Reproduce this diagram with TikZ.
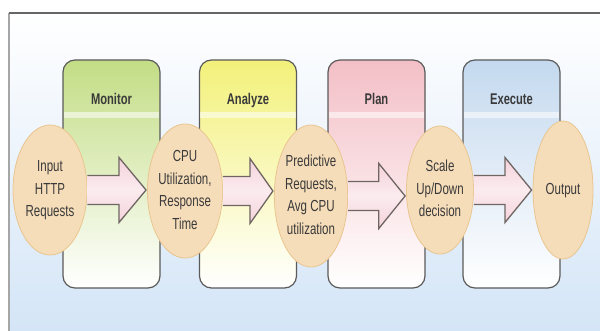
\documentclass[tikz,border=0pt]{standalone}
\usepackage{fontspec}
\setmainfont{Liberation Sans}
\usepackage{graphicx}
\usetikzlibrary{shapes.geometric,calc}

\definecolor{monitorgreen}{HTML}{C3DD85}
\definecolor{analyzeyellow}{HTML}{F3F17A}
\definecolor{planpink}{HTML}{F3BFC6}
\definecolor{executeblue}{HTML}{C4D9EF}
\definecolor{peach}{HTML}{F6DDBA}
\definecolor{peachline}{HTML}{E9C58F}
\definecolor{arrowpink}{HTML}{F5D3DB}
\definecolor{arrowline}{HTML}{6F6663}
\definecolor{boxline}{HTML}{5A5A5A}
\definecolor{txtgray}{HTML}{3A3A3A}
\definecolor{bgbot}{HTML}{D4E5F7}
\definecolor{bgmid}{HTML}{EEF4FB}

% squeezed text, as in the original
\newcommand{\sq}[1]{\scalebox{0.72}[1]{\begin{tabular}{@{}c@{}}#1\end{tabular}}}

\tikzset{
  stagebox/.style={rounded corners=12pt, draw=boxline, line width=1.2pt,
    minimum width=97pt, minimum height=228pt, inner sep=0pt},
  stagetitle/.style={text=txtgray, font=\fontsize{15.5}{22}\selectfont\bfseries},
  stepoval/.style={ellipse, fill=peach, draw=peachline, line width=0.8pt,
    inner sep=0pt, text=txtgray, font=\fontsize{16}{22.5}\selectfont},
  flowarrow/.style={top color=arrowpink, bottom color=arrowpink, middle color=arrowpink!45,
    draw=arrowline, line width=1.3pt, line join=miter}
}

\newcommand{\flowarr}[2]{%
  \draw[flowarrow] let \p1=(#1.east), \p2=(#2.west), \n1={0.53*(\x2-\x1)} in
    (\x1,\y1+14.5pt) -- (\x1+\n1,\y1+14.5pt) -- (\x1+\n1,\y1+32.5pt)
    -- (\x2-1pt,\y1) -- (\x1+\n1,\y1-32.5pt) -- (\x1+\n1,\y1-14.5pt)
    -- (\x1,\y1-14.5pt);}

\begin{document}
\begin{tikzpicture}[x=1pt, y=-1pt]
\useasboundingbox (0,0) rectangle (600,331);
\fill[white] (0,0) rectangle (600,331);

% frame
\fill[top color=white, middle color=bgmid, bottom color=bgbot] (9,13) rectangle (600,331);
\draw[gray!70, line width=1.2pt] (9,331) -- (9,13);
\draw[black!60, line width=1.6pt] (9,13) -- (600,13);

% stages
\foreach \bx/\cx/\col/\ttl in {mon/111.5/monitorgreen/Monitor, ana/248/analyzeyellow/Analyze,
    pla/376.5/planpink/Plan, exe/511.5/executeblue/Execute}{
  \node[stagebox, top color=\col, bottom color=white, middle color=\col!50] (\bx) at (\cx,174) {};
  \fill[white, opacity=.55] (\cx-47.8,112) rectangle (\cx+47.8,118);
  \node[stagetitle] (\bx-t) at (\cx,100) {\sq{\ttl}};
}

% data
\node[stepoval, minimum width=74pt, minimum height=130pt] (in) at (50,190) {\sq{Input\\HTTP\\Requests}};
\node[stepoval, minimum width=62pt, minimum height=134pt] (cpu) at (185,191) {\sq{CPU\\Utilization,\\Response\\Time}};
\node[stepoval, minimum width=62pt, minimum height=142pt] (pred) at (311,196) {\sq{Predictive\\Requests,\\Avg CPU\\utilization}};
\node[stepoval, minimum width=60pt, minimum height=128pt] (scale) at (440,190) {\sq{Scale\\Up/Down\\decision}};
\node[stepoval, minimum width=60pt, minimum height=138pt] (out) at (563,190) {\sq{Output}};

\flowarr{in}{cpu}
\flowarr{cpu}{pred}
\flowarr{pred}{scale}
\flowarr{scale}{out}
\end{tikzpicture}
\end{document}
